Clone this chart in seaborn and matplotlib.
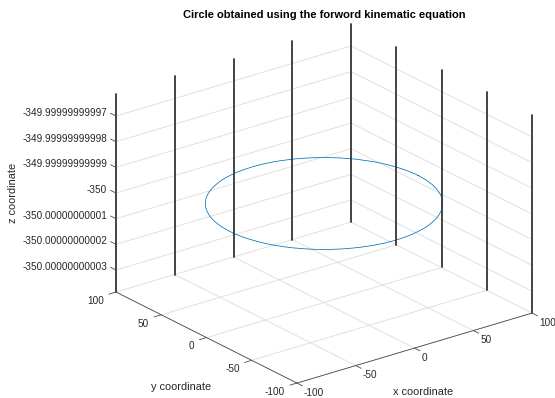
import numpy as np
import matplotlib
matplotlib.use("Agg")
import matplotlib.pyplot as plt
import seaborn as sns
from matplotlib.transforms import offset_copy

sns.set_theme(style="white")
plt.rcParams["font.family"] = ["Liberation Sans", "DejaVu Sans"]

# End-effector path: circle in the plane z = -350
circle_center_x = 0.0
circle_center_y = 0.0
circle_radius = 80.0
circle_z = -350.0
theta = np.linspace(0.0, 2.0 * np.pi, 361)

# Axis ranges, ticks and labels
x_limits = (-100.0, 100.0)
y_limits = (-100.0, 100.0)
z_limits = (-350.0000000000386, -349.9999999999614)
x_ticks = [-100, -50, 0, 50, 100]
y_ticks = [-100, -50, 0, 50, 100]
x_tick_labels = ["-100", "-50", "0", "50", "100"]
y_tick_labels = ["-100", "-50", "0", "50", "100"]
z_ticks = [-350.00000000003, -350.00000000002, -350.00000000001, -350.0,
           -349.99999999999, -349.99999999998, -349.99999999997]
z_tick_labels = ["-350.00000000003", "-350.00000000002", "-350.00000000001", "-350",
                 "-349.99999999999", "-349.99999999998", "-349.99999999997"]

title_text = "Circle obtained using the forword kinematic equation"
x_label = "x coordinate"
y_label = "y coordinate"
z_label = "z coordinate"

FW, FH = 555, 398
fig = plt.figure(figsize=(FW / 100, FH / 100), dpi=100)
side = 600
ax = fig.add_axes([15.9 / FW, -113.6 / FH, side / FW, side / FH],
                  projection="3d", computed_zorder=False)
ax.set_proj_type("ortho")
ax.view_init(elev=22.77, azim=-127.59)
ax.set_box_aspect((1, 1, 0.724), zoom=0.7627)
ax.set_xlim(*x_limits)
ax.set_ylim(*y_limits)
ax.set_zlim(*z_limits)
ax.set_axis_off()

xmin, xmax = x_limits
ymin, ymax = y_limits
zmin, zmax = z_limits

grid_kw = dict(color="#dcdcdc", lw=0.6, zorder=1)
wall_kw = dict(color="#353535", lw=1.3, zorder=3)
axis_kw = dict(color="#4a4a4a", lw=0.6, zorder=4)
tick_len = 6.0

# floor grid
for xt in x_ticks:
    ax.plot([xt, xt], [ymin, ymax], [zmin, zmin], **grid_kw)
for yt in y_ticks:
    ax.plot([xmin, xmax], [yt, yt], [zmin, zmin], **grid_kw)
# back-wall horizontal grid at each z tick
for zt in z_ticks:
    ax.plot([xmin, xmax, xmax], [ymax, ymax, ymin], [zt, zt, zt], **grid_kw)

# circle
xs = circle_center_x + circle_radius * np.cos(theta)
ys = circle_center_y + circle_radius * np.sin(theta)
zs = np.full_like(theta, circle_z)
ax.plot(xs, ys, zs, color="#0072BD", lw=0.55, zorder=2)

# vertical wall lines
for xt in x_ticks:
    ax.plot([xt, xt], [ymax, ymax], [zmin, zmax], **wall_kw)
for yt in y_ticks:
    if yt != ymax:
        ax.plot([xmax, xmax], [yt, yt], [zmin, zmax], **wall_kw)

# axis lines and tick marks
ax.plot([xmin, xmax], [ymin, ymin], [zmin, zmin], **axis_kw)
ax.plot([xmin, xmin], [ymax, ymin], [zmin, zmin], **axis_kw)
for xt in x_ticks:
    ax.plot([xt, xt], [ymin, ymin - tick_len], [zmin, zmin], **axis_kw)
for yt in y_ticks:
    ax.plot([xmin, xmin - tick_len], [yt, yt], [zmin, zmin], **axis_kw)
for zt in z_ticks:
    ax.plot([xmin, xmin], [ymax, ymax + tick_len], [zt, zt], **axis_kw)

M = ax.get_proj()


def to2d(x, y, z):
    v = M @ np.array([x, y, z, 1.0])
    return v[0] / v[3], v[1] / v[3]


tick_color = "#262626"
tick_fs = 7.2
for zt, lab in zip(z_ticks, z_tick_labels):
    px, py = to2d(xmin, ymax, zt)
    ax.text2D(px, py, lab, ha="right", va="center", fontsize=tick_fs, color=tick_color,
              transform=offset_copy(ax.transData, fig=fig, x=-9, y=3, units="dots"))
for yt, lab in zip(y_ticks, y_tick_labels):
    px, py = to2d(xmin, yt, zmin)
    ax.text2D(px, py, lab, ha="right", va="center", fontsize=tick_fs, color=tick_color,
              transform=offset_copy(ax.transData, fig=fig, x=-12, y=-9, units="dots"))
for xt, lab in zip(x_ticks, x_tick_labels):
    px, py = to2d(xt, ymin, zmin)
    ax.text2D(px, py, lab, ha="left", va="center", fontsize=tick_fs, color=tick_color,
              transform=offset_copy(ax.transData, fig=fig, x=7, y=-10, units="dots"))

label_fs = 7.9
fig.text(181 / FW, 1 - 387 / FH, y_label, ha="center", va="center",
         fontsize=label_fs, color=tick_color)
fig.text(423 / FW, 1 - 392 / FH, x_label, ha="center", va="center",
         fontsize=label_fs, color=tick_color)
fig.text(13 / FW, 1 - 193 / FH, z_label, ha="center", va="center", rotation=90,
         fontsize=label_fs, color=tick_color)
fig.text(324 / FW, 1 - 15 / FH, title_text, ha="center", va="center",
         fontsize=8.0, fontweight="bold", color="black")

fig.savefig("out.png", dpi=100)
